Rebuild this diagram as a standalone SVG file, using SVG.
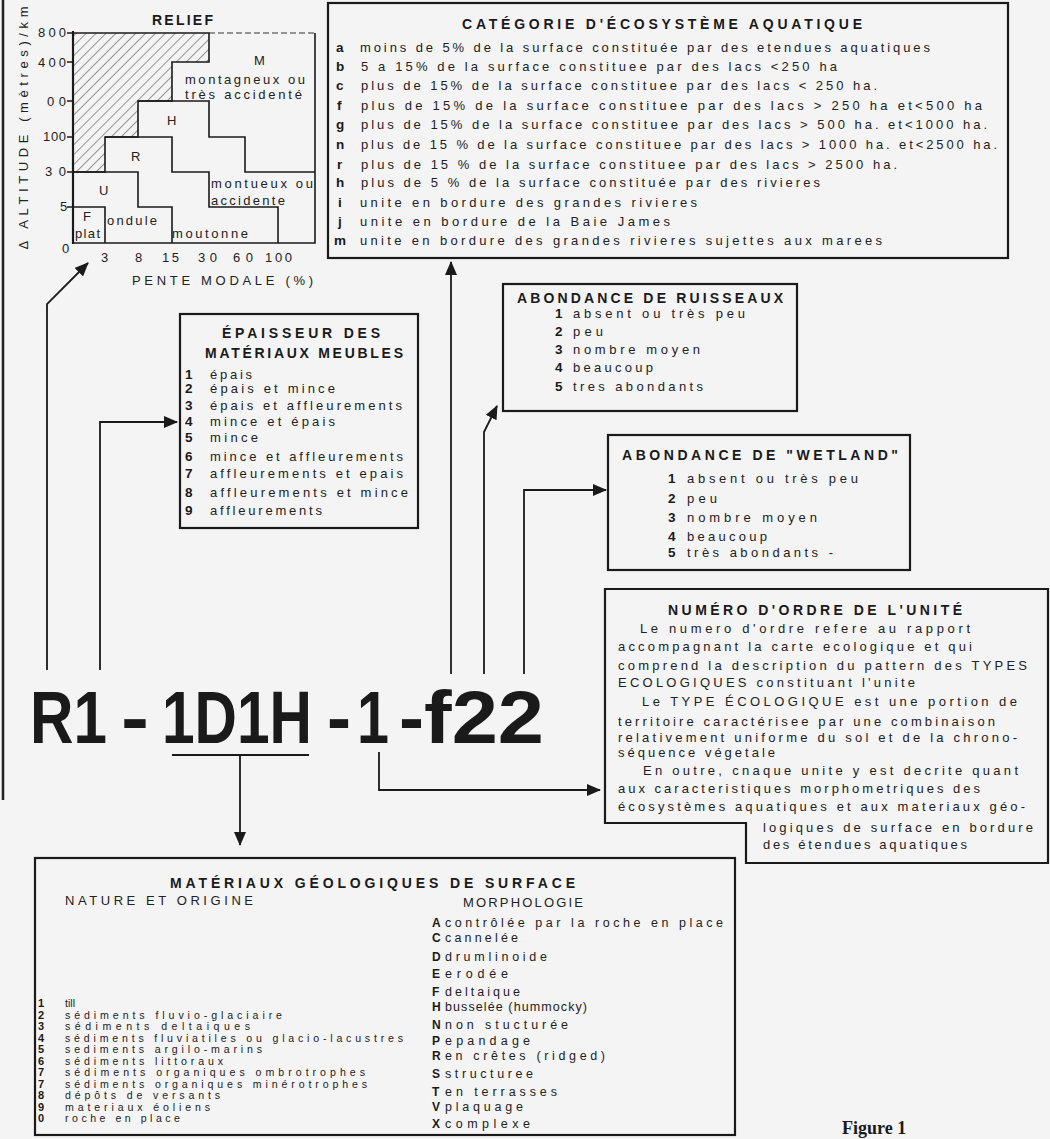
<svg xmlns="http://www.w3.org/2000/svg" width="1050" height="1139" viewBox="0 0 1050 1139">
<defs>
<style>
.t{font-family:"Liberation Sans",Arial,sans-serif;font-size:13px;fill:#222;}
.s{font-family:"Liberation Sans",Arial,sans-serif;font-size:12.5px;fill:#222;}
.s2{font-family:"Liberation Sans",Arial,sans-serif;font-size:10.6px;fill:#222;}
.b{font-family:"Liberation Sans",Arial,sans-serif;font-weight:bold;font-size:13.5px;fill:#1a1a1a;}
.b2{font-family:"Liberation Sans",Arial,sans-serif;font-weight:bold;font-size:12px;fill:#1a1a1a;}
.b3{font-family:"Liberation Sans",Arial,sans-serif;font-weight:bold;font-size:11px;fill:#1a1a1a;}
.h{font-family:"Liberation Sans",Arial,sans-serif;font-weight:bold;font-size:14px;fill:#1a1a1a;}
.code{font-family:"Liberation Sans",Arial,sans-serif;font-weight:bold;font-size:59.3px;fill:#1a1a1a;}
.box{fill:none;stroke:#1a1a1a;stroke-width:2.2;}
.ln{fill:none;stroke:#1a1a1a;stroke-width:1.8;}
.cl{fill:none;stroke:#1a1a1a;stroke-width:1.6;}
.ar{fill:none;stroke:#1a1a1a;stroke-width:1.8;marker-end:url(#ah);}
</style>
<marker id="ah" markerWidth="14" markerHeight="12" refX="13" refY="6" orient="auto" markerUnits="userSpaceOnUse"><path d="M0,0 L14,6 L0,12 z" fill="#1a1a1a"/></marker>
<pattern id="hatch" width="7" height="7" patternUnits="userSpaceOnUse" patternTransform="rotate(45)"><line x1="0" y1="0" x2="0" y2="7" stroke="#333" stroke-width="1"/></pattern>
</defs>
<rect width="1050" height="1139" fill="#f4f4f4"/>
<line x1="3" y1="0" x2="3" y2="800" stroke="#222" stroke-width="2.5"/>

<g id="relief">
<text class="h" x="152" y="25" textLength="61">RELIEF</text>
<path d="M73,33 H209 V62 H172 V101 H138 V137 H105 V172 H73 Z" fill="url(#hatch)" stroke="#1a1a1a" stroke-width="1.6"/>
<line x1="209" y1="33" x2="315" y2="33" stroke="#333" stroke-width="1.2" stroke-dasharray="6,3"/>
<path class="cl" d="M315,33 V243 H73"/>
<line x1="73" y1="31" x2="73" y2="244" stroke="#1a1a1a" stroke-width="2.2"/>
<path class="cl" d="M138,101 H209 V137 H245 V172 H315"/>
<path class="cl" d="M105,137 H172 V172 H209 V207 H278 V243"/>
<path class="cl" d="M73,172 H138 V207 H172 V243"/>
<path class="cl" d="M73,207 H105 V243"/>
<path class="cl" d="M67,33 H73 M67,62 H73 M67,101 H73 M67,137 H73 M67,172 H73 M67,207 H73"/>
<text class="t" x="38" y="37" textLength="28">800</text>
<text class="t" x="38" y="67" textLength="28">400</text>
<text class="t" x="47" y="106" textLength="19">00</text>
<text class="t" x="43" y="141" textLength="23">100</text>
<text class="t" x="45" y="176" textLength="21">30</text>
<text class="t" x="60" y="211">5</text>
<text class="t" x="62" y="253">0</text>
<text class="t" x="101" y="262">3</text>
<text class="t" x="135" y="262">8</text>
<text class="t" x="162" y="262" textLength="17">15</text>
<text class="t" x="198" y="262" textLength="19">30</text>
<text class="t" x="233" y="262" textLength="20">60</text>
<text class="t" x="265" y="262" textLength="27">100</text>
<text class="t" x="132" y="285" textLength="181">PENTE MODALE (%)</text>
<text class="t" transform="translate(28,128) rotate(-90)" text-anchor="middle" x="0" y="0" textLength="243">Δ ALTITUDE (mètres)/km</text>
<text class="t" x="254" y="65">M</text>
<text class="t" x="185" y="84" textLength="120">montagneux ou</text>
<text class="t" x="185" y="99" textLength="117">très accidenté</text>
<text class="t" x="167" y="125">H</text>
<text class="t" x="131" y="161">R</text>
<text class="t" x="99" y="195">U</text>
<text class="t" x="83" y="221">F</text>
<text class="t" x="75" y="238" textLength="25">plat</text>
<text class="t" x="107" y="225" textLength="50">ondule</text>
<text class="t" x="172" y="238" textLength="76">moutonne</text>
<text class="t" x="211" y="188" textLength="102">montueux ou</text>
<text class="t" x="211" y="205" textLength="74">accidente</text>
</g>

<g id="categorie">
<rect class="box" x="328" y="3" width="680" height="255"/>
<text class="h" x="462" y="29" textLength="400">CATÉGORIE D'ÉCOSYSTÈME AQUATIQUE</text>
<text class="b" x="336" y="52">a</text><text class="t" x="360" y="52" textLength="570">moins de 5% de la surface constituée par des etendues aquatiques</text>
<text class="b" x="336" y="71">b</text><text class="t" x="361" y="71" textLength="476">5 a 15% de la surface constituee par des lacs &lt;250 ha</text>
<text class="b" x="336" y="90">c</text><text class="t" x="361" y="90" textLength="516">plus de 15% de la surface constituee par des lacs &lt; 250 ha.</text>
<text class="b" x="337" y="110">f</text><text class="t" x="361" y="110" textLength="621">plus de 15% de la surface constituee par des lacs &gt; 250 ha et&lt;500 ha</text>
<text class="b" x="336" y="129">g</text><text class="t" x="361" y="129" textLength="626">plus de 15% de la surface constituee par des lacs &gt; 500 ha. et&lt;1000 ha.</text>
<text class="b" x="336" y="149">n</text><text class="t" x="361" y="149" textLength="636">plus de 15 % de la surface constituee par des lacs &gt; 1000 ha. et&lt;2500 ha.</text>
<text class="b" x="337" y="169">r</text><text class="t" x="361" y="169" textLength="536">plus de 15 % de la surface constituee par des lacs &gt; 2500 ha.</text>
<text class="b" x="336" y="187">h</text><text class="t" x="361" y="187" textLength="459">plus de 5 % de la surface constituée par des rivieres</text>
<text class="b" x="338" y="207">i</text><text class="t" x="360" y="207" textLength="337">unite en bordure des grandes rivieres</text>
<text class="b" x="338" y="226">j</text><text class="t" x="360" y="226" textLength="310">unite en bordure de la Baie James</text>
<text class="b" x="334" y="245">m</text><text class="t" x="360" y="245" textLength="522">unite en bordure des grandes rivieres sujettes aux marees</text>
</g>

<g id="epaisseur">
<rect class="box" x="180" y="314" width="238" height="214"/>
<text class="h" x="222" y="338" textLength="158">ÉPAISSEUR DES</text>
<text class="h" x="205" y="358" textLength="198">MATÉRIAUX MEUBLES</text>
<text class="b" x="185" y="379">1</text><text class="t" x="210" y="379" textLength="42">épais</text>
<text class="b" x="185" y="393">2</text><text class="t" x="210" y="393" textLength="125">épais et mince</text>
<text class="b" x="185" y="410">3</text><text class="t" x="210" y="410" textLength="192">épais et affleurements</text>
<text class="b" x="185" y="426">4</text><text class="t" x="210" y="426" textLength="125">mince et épais</text>
<text class="b" x="185" y="442">5</text><text class="t" x="210" y="442" textLength="48">mince</text>
<text class="b" x="185" y="461">6</text><text class="t" x="210" y="461" textLength="193">mince et affleurements</text>
<text class="b" x="185" y="478">7</text><text class="t" x="210" y="478" textLength="193">affleurements et epais</text>
<text class="b" x="185" y="497">8</text><text class="t" x="210" y="497" textLength="198">affleurements et mince</text>
<text class="b" x="185" y="515">9</text><text class="t" x="210" y="515" textLength="112">affleurements</text>
</g>

<g id="ruisseaux">
<rect class="box" x="503" y="284" width="294" height="127"/>
<text class="h" x="517" y="303" textLength="266">ABONDANCE DE RUISSEAUX</text>
<text class="b" x="555" y="318">1</text><text class="t" x="573" y="318" textLength="172">absent ou très peu</text>
<text class="b" x="555" y="336">2</text><text class="t" x="573" y="336" textLength="30">peu</text>
<text class="b" x="555" y="354">3</text><text class="t" x="573" y="354" textLength="127">nombre moyen</text>
<text class="b" x="555" y="372">4</text><text class="t" x="573" y="372" textLength="80">beaucoup</text>
<text class="b" x="555" y="391">5</text><text class="t" x="573" y="391" textLength="130">tres abondants</text>
</g>

<g id="wetland">
<rect class="box" x="608" y="435" width="302" height="135"/>
<text class="h" x="622" y="460" textLength="276">ABONDANCE DE "WETLAND"</text>
<text class="b" x="668" y="483">1</text><text class="t" x="687" y="483" textLength="171">absent ou très peu</text>
<text class="b" x="668" y="503">2</text><text class="t" x="687" y="503" textLength="30">peu</text>
<text class="b" x="668" y="522">3</text><text class="t" x="687" y="522" textLength="130">nombre moyen</text>
<text class="b" x="668" y="541">4</text><text class="t" x="687" y="541" textLength="80">beaucoup</text>
<text class="b" x="668" y="557">5</text><text class="t" x="687" y="557" textLength="146">très abondants -</text>
</g>

<g id="numero">
<path class="box" d="M605,589 H1048 V863 H746 V823 H605 Z"/>
<text class="h" x="668" y="615" textLength="294">NUMÉRO D'ORDRE DE L'UNITÉ</text>
<text class="t" x="640" y="633" textLength="330">Le numero d'ordre refere au rapport</text>
<text class="t" x="618" y="651" textLength="354">accompagnant la carte ecologique et qui</text>
<text class="t" x="618" y="670" textLength="409">comprend la description du pattern des TYPES</text>
<text class="t" x="618" y="687" textLength="297">ECOLOGIQUES constituant l'unite</text>
<text class="t" x="642" y="706" textLength="375">Le TYPE ÉCOLOGIQUE est une portion de</text>
<text class="t" x="618" y="726" textLength="377">territoire caractérisee par une combinaison</text>
<text class="t" x="618" y="742" textLength="399">relativement uniforme du sol et de la chrono-</text>
<text class="t" x="618" y="757" textLength="157">séquence végetale</text>
<text class="t" x="643" y="775" textLength="375">En outre, cnaque unite y est decrite quant</text>
<text class="t" x="618" y="793" textLength="362">aux caracteristiques morphometriques des</text>
<text class="t" x="618" y="811" textLength="407">écosystèmes aquatiques et aux materiaux géo-</text>
<text class="t" x="763" y="832" textLength="270">logiques de surface en bordure</text>
<text class="t" x="763" y="849" textLength="204">des étendues aquatiques</text>
</g>

<g id="materiaux">
<rect class="box" x="35" y="858" width="700" height="277"/>
<text class="h" x="170" y="888" textLength="405">MATÉRIAUX GÉOLOGIQUES DE SURFACE</text>
<text class="t" x="65" y="905" textLength="188">NATURE ET ORIGINE</text>
<text class="t" x="463" y="907" textLength="120">MORPHOLOGIE</text>
<text class="b3" x="38" y="1007">1</text><text class="s2" x="65" y="1007">till</text>
<text class="b3" x="38" y="1018.5">2</text><text class="s2" x="65" y="1018.5" textLength="217">sédiments fluvio-glaciaire</text>
<text class="b3" x="38" y="1030">3</text><text class="s2" x="65" y="1030" textLength="185">sédiments deltaiques</text>
<text class="b3" x="38" y="1041.5">4</text><text class="s2" x="65" y="1041.5" textLength="338">sédiments fluviatiles ou glacio-lacustres</text>
<text class="b3" x="38" y="1053">5</text><text class="s2" x="65" y="1053" textLength="197">sediments argilo-marins</text>
<text class="b3" x="38" y="1064.5">6</text><text class="s2" x="65" y="1064.5" textLength="158">sédiments littoraux</text>
<text class="b3" x="38" y="1076">7</text><text class="s2" x="65" y="1076" textLength="300">sédiments organiques ombrotrophes</text>
<text class="b3" x="38" y="1087.5">7</text><text class="s2" x="65" y="1087.5" textLength="302">sédiments organiques minérotrophes</text>
<text class="b3" x="38" y="1099">8</text><text class="s2" x="65" y="1099" textLength="155">dépôts de versants</text>
<text class="b3" x="38" y="1110.5">9</text><text class="s2" x="65" y="1110.5" textLength="145">materiaux éoliens</text>
<text class="b3" x="38" y="1122">0</text><text class="s2" x="65" y="1122" textLength="115">roche en place</text>
<text class="b2" x="432" y="927">A</text><text class="s" x="445" y="927" textLength="278">contrôlée par la roche en place</text>
<text class="b2" x="432" y="942">C</text><text class="s" x="445" y="942" textLength="73">cannelée</text>
<text class="b2" x="432" y="961">D</text><text class="s" x="445" y="961" textLength="102">drumlinoide</text>
<text class="b2" x="432" y="978">E</text><text class="s" x="445" y="978" textLength="63">erodée</text>
<text class="b2" x="432" y="996">F</text><text class="s" x="445" y="996" textLength="75">deltaique</text>
<text class="b2" x="432" y="1011">H</text><text class="s" x="445" y="1011" textLength="142">busselée (hummocky)</text>
<text class="b2" x="432" y="1029">N</text><text class="s" x="445" y="1029" textLength="123">non stucturée</text>
<text class="b2" x="432" y="1045">P</text><text class="s" x="445" y="1045" textLength="85">epandage</text>
<text class="b2" x="432" y="1060">R</text><text class="s" x="445" y="1060" textLength="160">en crêtes (ridged)</text>
<text class="b2" x="432" y="1078">S</text><text class="s" x="445" y="1078" textLength="88">structuree</text>
<text class="b2" x="432" y="1096">T</text><text class="s" x="445" y="1096" textLength="112">en terrasses</text>
<text class="b2" x="432" y="1111">V</text><text class="s" x="445" y="1111" textLength="78">plaquage</text>
<text class="b2" x="432" y="1128">X</text><text class="s" x="445" y="1128" textLength="85">complexe</text>
</g>

<g id="code" transform="translate(0,743) scale(1,1.265)">
<text class="code" x="30" y="0" textLength="77" lengthAdjust="spacingAndGlyphs">R1</text>
<text class="code" x="121" y="0" textLength="28" lengthAdjust="spacingAndGlyphs">-</text>
<text class="code" x="162" y="0" textLength="150" lengthAdjust="spacingAndGlyphs">1D1H</text>
<text class="code" x="327" y="0" textLength="24" lengthAdjust="spacingAndGlyphs">-</text>
<text class="code" x="357" y="0" textLength="32" lengthAdjust="spacingAndGlyphs">1</text>
<text class="code" x="399" y="0" textLength="25" lengthAdjust="spacingAndGlyphs">-</text>
<text class="code" x="424" y="0" textLength="120" lengthAdjust="spacingAndGlyphs">f22</text>
</g>

<g id="connectors">
<line class="ln" x1="172" y1="755" x2="309" y2="755" stroke-width="2"/>
<path class="ar" d="M240,755 V845"/>
<path class="ar" d="M379,752 V790 H600"/>
<path class="ar" d="M47,670 V304 L88,263"/>
<path class="ar" d="M100,670 V422 H177"/>
<path class="ar" d="M451,674 V262"/>
<path class="ar" d="M484,674 V432 L497,406"/>
<path class="ar" d="M524,674 V490 H606"/>
</g>

<text x="842" y="1134" style="font-family:'Liberation Serif','Times New Roman',serif;font-weight:bold;font-size:18px;fill:#1a1a1a">Figure 1</text>
</svg>
